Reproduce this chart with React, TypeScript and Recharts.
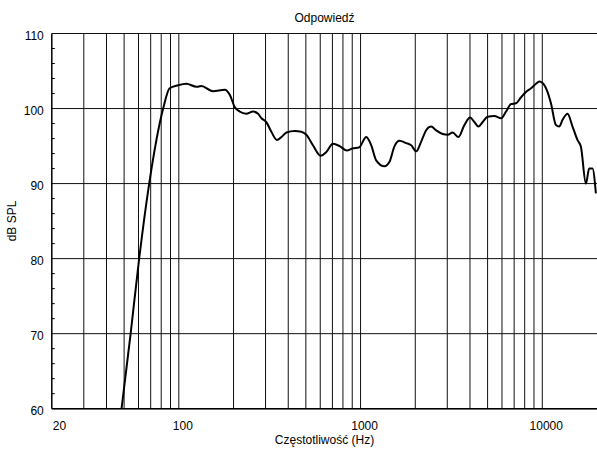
import React from 'react';
import { LineChart, Line, XAxis, YAxis, CartesianGrid } from 'recharts';

const freqs = [
  48.4, 54.3, 60.5, 68.7, 82, 89, 99, 110, 125, 133, 154, 179, 191, 203, 216, 235,
  256, 273, 285, 303, 323, 347, 367, 391, 434, 472, 503, 547, 603, 648, 704, 767,
  841, 907, 979, 1075, 1145, 1219, 1354, 1443, 1538, 1638, 1782, 1899, 2024, 2156,
  2296, 2446, 2606, 2832, 3018, 3214, 3456, 3726, 4006, 4230, 4450, 4700, 5000,
  5448, 5930, 6318, 6730, 7168, 7638, 8128, 8670, 9232, 9626, 10036, 10692, 11160,
  11886, 12390, 12926, 13772, 14670, 15632, 16314, 17378, 18116, 18882, 19720,
];
const spl = [
  60, 70, 80, 90, 100, 102.7, 103.1, 103.3, 102.9, 103.0, 102.3, 102.5, 101.8, 100.2, 99.6, 99.3,
  99.6, 99.3, 98.7, 98.2, 96.9, 95.8, 96.2, 96.8, 97.0, 96.9, 96.5, 95.1, 93.7, 94.2, 95.3, 95.0,
  94.4, 94.7, 94.8, 96.2, 95.1, 93.1, 92.3, 92.9, 95.0, 95.7, 95.4, 95.1, 94.3, 95.6,
  97.1, 97.6, 97.1, 96.6, 96.5, 96.8, 96.2, 97.8, 98.8, 98.2, 97.6, 98.2, 98.9,
  99.0, 98.7, 99.6, 100.6, 100.7, 101.5, 102.2, 102.7, 103.3, 103.6, 103.4, 102.2, 100.7,
  97.8, 97.6, 98.5, 99.3, 97.6, 95.8, 94.9, 90.0, 92.0, 92.0, 88.7,
];

const xTicks = [20, 100, 1000, 10000];
const xGrid = [
  30, 40, 50, 60, 70, 80, 90, 100, 200, 300, 400, 500, 600, 700, 800, 900,
  1000, 2000, 3000, 4000, 5000, 6000, 7000, 8000, 9000, 10000,
];
const yTicks = [
  60, 62, 64, 66, 68, 70, 72, 74, 76, 78, 80, 82, 84, 86, 88, 90,
  92, 94, 96, 98, 100, 102, 104, 106, 108, 110,
];
const yGrid = [60, 70, 80, 90, 100, 110];

const data = freqs.map((f, i) => ({ freq: f, spl: spl[i] }));

const FONT = "Arial, 'Liberation Sans', sans-serif";

const XTick = (props: any) => {
  const { x, y, payload } = props;
  const first = payload.value === 20;
  return (
    <text
      x={first ? x + 1 : x + 4}
      y={y + 21}
      textAnchor={first ? 'start' : 'middle'}
      fontSize={12}
      fontFamily={FONT}
      fill="#000"
    >
      {payload.value}
    </text>
  );
};

const YTick = (props: any) => {
  const { x, y, payload } = props;
  if (payload.value % 10 !== 0) {
    return <line x1={x} x2={x + 3} y1={y} y2={y} stroke="#000" strokeWidth={1} />;
  }
  return (
    <text x={x - 8} y={y + 6} textAnchor="end" fontSize={12} fontFamily={FONT} fill="#000">
      {payload.value}
    </text>
  );
};

export default function App() {
  return (
    <div style={{ position: 'absolute', left: 0, top: 0, width: 597, height: 450, background: '#fff' }}>
      <LineChart width={597} height={450} data={data} margin={{ top: 33.5, right: 0, bottom: 0, left: 0 }}>
        <CartesianGrid
          horizontalValues={yGrid}
          verticalValues={xGrid}
          stroke="#111"
          strokeWidth={1}
        />
        <XAxis
          dataKey="freq"
          type="number"
          scale="log"
          domain={[20, 20000]}
          allowDataOverflow
          ticks={xTicks}
          interval={0}
          tick={<XTick />}
          tickLine={false}
          tickSize={0}
          tickMargin={0}
          height={41.3}
          axisLine={{ stroke: '#000', strokeWidth: 1.5 }}
        />
        <YAxis
          type="number"
          domain={[60, 110]}
          allowDataOverflow
          ticks={yTicks}
          interval={0}
          tick={<YTick />}
          tickLine={false}
          tickSize={0}
          tickMargin={0}
          width={51.8}
          axisLine={{ stroke: '#000', strokeWidth: 1.5 }}
        />
        <Line
          dataKey="spl"
          type="monotone"
          stroke="#000"
          strokeWidth={2}
          dot={false}
          isAnimationActive={false}
        />
      </LineChart>
      <svg
        width={597}
        height={450}
        style={{ position: 'absolute', left: 0, top: 0, pointerEvents: 'none' }}
      >
        <text x={324.5} y={22} textAnchor="middle" fontSize={12} fontFamily={FONT} fill="#000">
          Odpowiedź
        </text>
        <text x={324.5} y={444} textAnchor="middle" fontSize={12} fontFamily={FONT} fill="#000">
          Częstotliwość (Hz)
        </text>
        <text
          x={0}
          y={0}
          transform="translate(16,221) rotate(-90)"
          textAnchor="middle"
          fontSize={12}
          fontFamily={FONT}
          fill="#000"
        >
          dB SPL
        </text>
      </svg>
    </div>
  );
}
